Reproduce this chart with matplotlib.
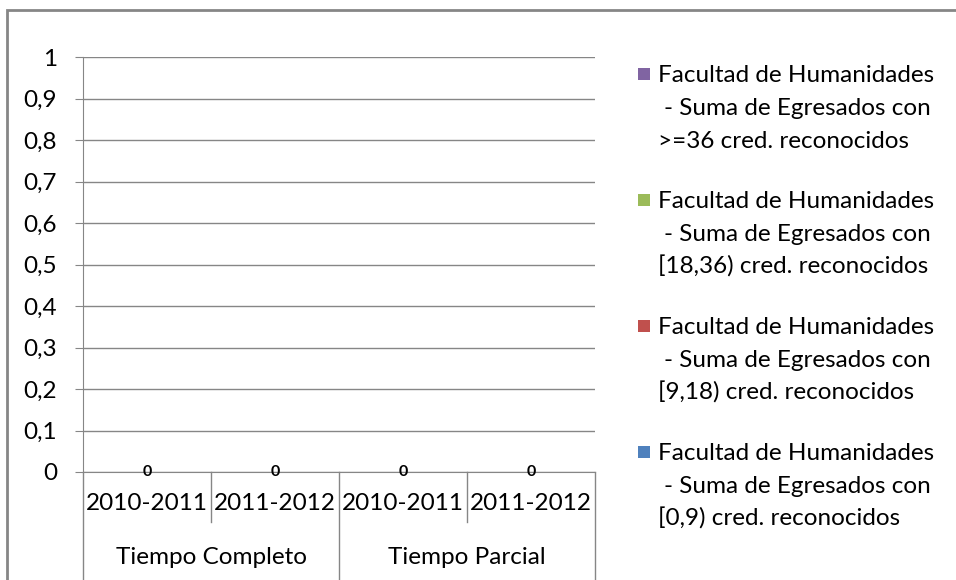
import matplotlib.pyplot as plt
import numpy as np
from matplotlib.patches import Rectangle

plt.rcParams["font.family"] = ["Lato", "DejaVu Sans"]

# data
years = ["2010-2011", "2011-2012", "2010-2011", "2011-2012"]
groups = ["Tiempo Completo", "Tiempo Parcial"]
egr_0_9 = [0, 0, 0, 0]
egr_9_18 = [0, 0, 0, 0]
egr_18_36 = [0, 0, 0, 0]
egr_36_mas = [0, 0, 0, 0]
series = [egr_0_9, egr_9_18, egr_18_36, egr_36_mas]
labels = [
    ["Facultad de Humanidades", "- Suma de Egresados con", "[0,9) cred. reconocidos"],
    ["Facultad de Humanidades", "- Suma de Egresados con", "[9,18) cred. reconocidos"],
    ["Facultad de Humanidades", "- Suma de Egresados con", "[18,36) cred. reconocidos"],
    ["Facultad de Humanidades", "- Suma de Egresados con", ">=36 cred. reconocidos"],
]
colors = ["#4F81BD", "#C0504D", "#9BBB59", "#8064A2"]
yticks = np.round(np.arange(0, 1.01, 0.1), 1)

W, H = 956, 580
GRAY = "#868686"
FS = 17.5
fig = plt.figure(figsize=(W / 100, H / 100), dpi=100)

# outer chart frame (runs off the right and bottom edges)
fig.add_artist(Rectangle((7 / W, -0.1), 1.2, 1 - 10 / H + 0.1, transform=fig.transFigure,
                         fill=False, edgecolor=GRAY, lw=2))

x0, x1, y0, y1 = 83, 595, 472, 57
ax = fig.add_axes([x0 / W, 1 - y0 / H, (x1 - x0) / W, (y0 - y1) / H])
x = np.arange(len(years))
ax.set_xlim(-0.5, len(years) - 0.5)
ax.set_ylim(0, 1)

bottom = np.zeros(len(years))
bars = []
for vals, c in zip(series, colors):
    bars.append(ax.bar(x, vals, 0.55, bottom=bottom, color=c))
    bottom += np.array(vals)
ax.bar_label(bars[-1], labels=[f"{v:g}" for v in bottom], label_type="center",
             fontsize=11.5, fontweight="bold", color="black")

for s in ["top", "right"]:
    ax.spines[s].set_visible(False)
for s in ["left", "bottom"]:
    ax.spines[s].set_color(GRAY)
ax.yaxis.grid(True, color=GRAY, lw=1)
ax.set_axisbelow(True)
ax.set_yticks(yticks)
ax.set_yticklabels([f"{v:g}".replace(".", ",") for v in yticks])
ax.tick_params(axis="y", length=5.8, color=GRAY, pad=13, labelsize=FS)
ax.set_xticks([])

# two-level category axis
tr = ax.get_xaxis_transform()
def ay(py):
    return (y0 - py) / (y0 - y1)

for xi, lab in zip(x, years):
    ax.text(xi, ay(504), lab, transform=tr, ha="center", va="center", fontsize=FS)
for gi, g in enumerate(groups):
    ax.text(gi * 2 + 0.5, ay(558), g, transform=tr, ha="center", va="center", fontsize=FS)
for xs in np.arange(-0.5, len(years), 1.0):
    full = int(round(xs + 0.5)) % 2 == 0
    ax.plot([xs, xs], [0, ay(590 if full else 522)], transform=tr, color=GRAY,
            lw=1, clip_on=False)

# legend, top entry first
for i, k in enumerate(range(len(series) - 1, -1, -1)):
    base = 82 + i * 126
    fig.add_artist(Rectangle((638 / W, 1 - (base - 2) / H), 12 / W, 12 / H,
                             transform=fig.transFigure, color=colors[k], lw=0))
    for j, line in enumerate(labels[k]):
        xo = 664 if line.startswith("-") else 658
        fig.text(xo / W, 1 - (base + j * 33) / H, line, ha="left", va="baseline",
                 fontsize=FS)

fig.savefig("out.png", dpi=100)
